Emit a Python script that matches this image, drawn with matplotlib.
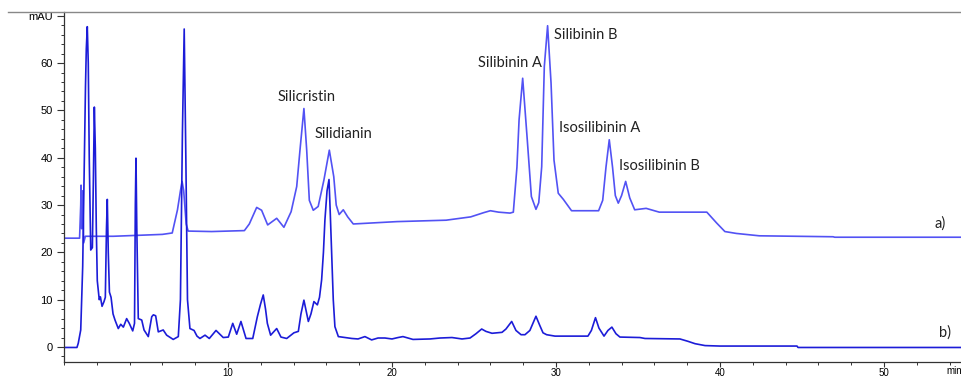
import numpy as np
import matplotlib.pyplot as plt
from matplotlib.ticker import MultipleLocator, FixedLocator, FixedFormatter
from matplotlib.lines import Line2D

# trace a) - retention time (min) / absorbance (mAU)
a_time = [0.0, 0.95, 1.02, 1.04, 1.08, 1.12, 1.14, 1.20, 1.30, 3.0, 4.5, 6.0, 6.6,
          6.92, 7.1, 7.2, 7.3, 7.45, 7.57, 9.0, 11.0, 11.3, 11.75, 12.05, 12.42,
          12.97, 13.41, 13.85, 14.19, 14.39, 14.63, 14.8, 14.96, 15.2, 15.5, 15.85,
          16.18, 16.45, 16.6, 16.78, 17.03, 17.3, 17.64, 20.3, 23.3, 24.8, 25.6, 26.0,
          26.5, 27.2, 27.4, 27.62, 27.75, 27.97, 28.25, 28.5, 28.78, 28.95, 29.13,
          29.29, 29.49, 29.7, 29.88, 30.14, 30.45, 30.95, 32.6, 32.85, 33.05, 33.25,
          33.45, 33.62, 33.8, 34.0, 34.25, 34.5, 34.8, 35.5, 36.3, 39.2, 39.8, 40.3,
          41.0, 42.4, 46.9, 47.0, 54.8]
a_mau = [23.0, 23.0, 30.0, 34.2, 25.0, 31.0, 33.0, 22.0, 23.4, 23.4, 23.6, 23.8, 24.1,
         29.0, 33.0, 35.0, 33.0, 26.0, 24.5, 24.4, 24.6, 26.0, 29.5, 28.9, 25.8,
         27.2, 25.3, 28.6, 33.9, 41.6, 50.4, 41.6, 31.0, 28.9, 29.7, 35.3,
         41.6, 36.0, 30.0, 28.0, 29.0, 27.5, 26.0, 26.5, 26.8, 27.5, 28.4, 28.8,
         28.5, 28.3, 28.5, 38.0, 48.0, 56.8, 43.8, 31.8, 29.1, 30.5, 38.1,
         59.3, 67.9, 55.8, 39.5, 32.5, 31.2, 28.8, 28.8, 31.0, 38.0, 43.8,
         38.0, 32.0, 30.4, 32.0, 35.0, 31.5, 29.0, 29.3, 28.5, 28.5, 26.2, 24.4,
         24.0, 23.5, 23.3, 23.2, 23.2]

# trace b)
b_time = [0.0, 0.79, 0.87, 1.02, 1.14, 1.22, 1.31, 1.36, 1.42, 1.48, 1.54, 1.63, 1.73,
          1.79, 1.85, 1.91, 1.97, 2.03, 2.15, 2.22, 2.32, 2.44, 2.52, 2.59, 2.64, 2.70,
          2.77, 2.87, 2.99, 3.11, 3.31, 3.46, 3.62, 3.82, 3.98, 4.19, 4.30, 4.35, 4.39,
          4.44, 4.53, 4.74, 4.88, 5.14, 5.35, 5.45, 5.59, 5.75, 6.05, 6.26, 6.66, 6.97,
          7.10, 7.22, 7.33, 7.43, 7.53, 7.68, 7.93, 8.11, 8.29, 8.60, 8.86, 9.27, 9.71,
          10.02, 10.29, 10.53, 10.79, 11.10, 11.51, 11.79, 11.98, 12.15, 12.29, 12.40,
          12.60, 12.97, 13.23, 13.58, 14.02, 14.29, 14.45, 14.63, 14.90, 15.06, 15.24,
          15.45, 15.58, 15.71, 15.82, 15.91, 16.04, 16.16, 16.24, 16.32, 16.42, 16.52,
          16.73, 17.13, 17.56, 17.93, 18.35, 18.76, 19.15, 19.57, 20.00, 20.37, 20.67,
          21.28, 22.32, 22.93, 23.66, 24.27, 24.76, 25.12, 25.47, 25.73, 26.10, 26.40,
          26.71, 26.95, 27.30, 27.56, 27.87, 28.11, 28.41, 28.78, 29.02, 29.21, 29.43,
          29.94, 30.85, 31.95, 32.16, 32.41, 32.62, 32.93, 33.17, 33.41, 33.66, 33.90,
          35.12, 35.43, 37.56, 38.05, 38.48, 39.09, 40.00, 44.70, 44.76, 54.8]
b_mau = [-0.1, -0.1, 0.8, 3.6, 17.0, 34.7, 55.0, 63.0, 67.7, 60.0, 40.0, 20.5, 21.0,
         35.0, 50.7, 42.0, 25.0, 14.0, 10.0, 10.6, 8.6, 9.6, 10.5, 25.0, 31.2, 20.0,
         11.6, 10.5, 7.0, 5.7, 3.9, 4.8, 4.2, 6.0, 5.0, 3.4, 5.0, 30.0, 39.9,
         25.0, 6.0, 5.7, 3.6, 2.2, 6.4, 6.8, 6.6, 3.2, 3.6, 2.5, 1.6, 2.2,
         10.0, 45.0, 67.2, 40.0, 10.0, 3.9, 3.5, 2.3, 1.8, 2.5, 1.8, 3.5, 2.0,
         2.1, 5.0, 2.7, 5.4, 1.8, 1.8, 6.4, 9.0, 11.0, 8.0, 5.0,
         2.5, 3.9, 2.1, 1.8, 3.0, 3.3, 7.0, 9.9, 5.4, 7.0, 9.6,
         8.9, 10.5, 14.2, 20.0, 26.8, 33.0, 35.4, 28.0, 19.8, 10.0, 4.3,
         2.2, 2.0, 1.8, 1.7, 2.2, 1.5, 1.9, 1.9, 1.7, 2.0, 2.2,
         1.6, 1.7, 1.9, 2.0, 1.7, 1.9, 2.8, 3.8, 3.3, 2.9, 3.0,
         3.1, 3.8, 5.4, 3.5, 2.6, 2.6, 3.5, 6.5, 4.5, 3.0, 2.6,
         2.3, 2.3, 2.3, 3.5, 6.2, 4.0, 2.3, 3.5, 4.2, 2.8, 2.1,
         2.0, 1.8, 1.7, 1.2, 0.7, 0.3, 0.2, 0.2, -0.1, -0.1]

peak_names = ['Silicristin', 'Silidianin', 'Silibinin A', 'Silibinin B',
              'Isosilibinin A', 'Isosilibinin B']
peak_label_x = [13.0, 15.3, 25.25, 29.85, 30.2, 33.85]
peak_label_y = [52.9, 45.1, 60.0, 66.0, 46.3, 38.3]

plt.rcParams['font.family'] = ['Lato', 'DejaVu Sans']

fig = plt.figure(figsize=(9.62, 3.77), dpi=100)
ax = fig.add_axes([64/962, 15/377, 898/962, 350/377])

ax.plot(a_time, a_mau, color='#5252f4', lw=1.2)
ax.plot(b_time, b_mau, color='#1c1cd8', lw=1.2)

for name, x, y in zip(peak_names, peak_label_x, peak_label_y):
    ax.text(x, y, name, fontsize=10.5, color='#222222', va='center', ha='left')

ax.text(53.1, 26.0, 'a)', fontsize=10.5, color='#222222', va='center')
ax.text(53.35, 3.1, 'b)', fontsize=10.5, color='#222222', va='center')

ax.set_xlim(0, 54.76)
ax.set_ylim(-3.17, 70.8)

for s in ['top', 'right']:
    ax.spines[s].set_visible(False)
ax.spines['left'].set_color('#333333')
ax.spines['bottom'].set_color('#333333')
ax.spines['left'].set_linewidth(0.9)
ax.spines['bottom'].set_linewidth(0.9)

ax.yaxis.set_major_locator(FixedLocator([0, 10, 20, 30, 40, 50, 60, 70]))
ax.yaxis.set_major_formatter(FixedFormatter(['0', '10', '20', '30', '40', '50', '60', 'mAU']))
ax.yaxis.set_minor_locator(MultipleLocator(2))
ax.xaxis.set_major_locator(FixedLocator([10, 20, 30, 40, 50]))
ax.xaxis.set_minor_locator(MultipleLocator(2))

for lab in ax.get_yticklabels() + ax.get_xticklabels():
    lab.set_family('Liberation Sans')
ax.tick_params(axis='y', which='major', length=5, width=0.8, labelsize=8,
               color='#333333', pad=3)
ax.tick_params(axis='x', which='major', length=3.5, width=0.8, labelsize=7,
               color='#333333', pad=0.5)
ax.tick_params(axis='both', which='minor', length=2.5, width=0.7, color='#333333')

# time unit at the right end of the axis
ax.text(1.0, -0.012, 'min', fontsize=7, family='Liberation Sans', va='top',
        ha='right', transform=ax.transAxes)

# grey frame line along the top
fig.add_artist(Line2D([8/962, 1.0], [1 - 12/377, 1 - 12/377], color='#888888', lw=1.0))

fig.savefig('out.png', dpi=100)
